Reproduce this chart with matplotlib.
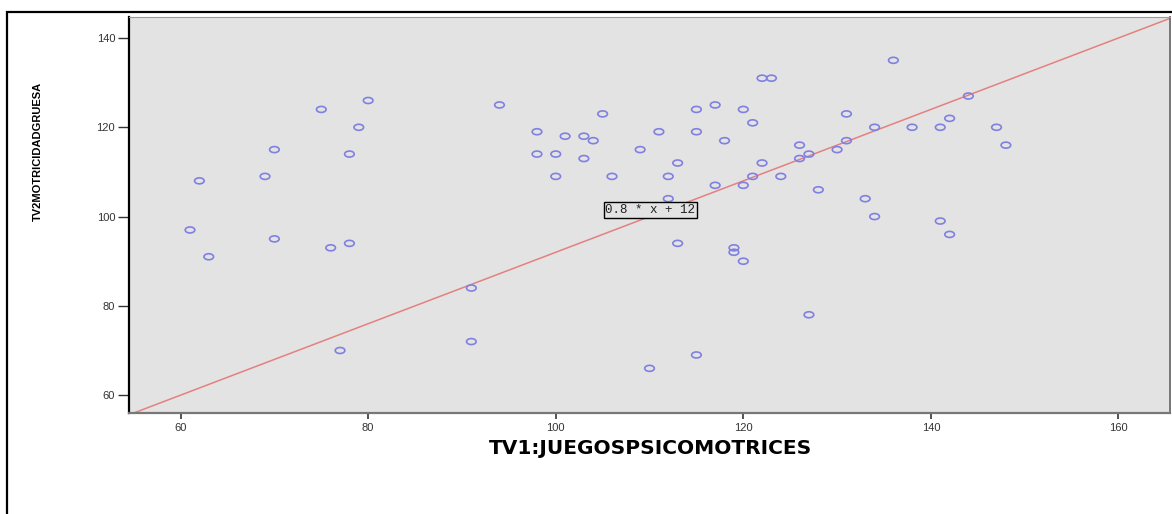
import matplotlib
matplotlib.use('Agg')
import matplotlib.pyplot as plt
from matplotlib.path import Path
from matplotlib.transforms import Affine2D
from matplotlib.patches import Rectangle

# data
juegos = [61, 62, 63, 69, 70, 70, 75, 76, 77, 78, 78, 79, 80, 91, 91, 94, 98, 98, 100, 100,
          101, 103, 103, 104, 105, 106, 109, 110, 111, 112, 112, 113, 113, 115, 115, 115, 117, 117, 118, 119,
          119, 120, 120, 120, 121, 121, 122, 122, 123, 124, 126, 126, 127, 127, 128, 130, 131, 131, 133, 134,
          134, 136, 138, 141, 141, 142, 142, 144, 147, 148]
motricidad = [97, 108, 91, 109, 115, 95, 124, 93, 70, 94, 114, 120, 126, 84, 72, 125, 119, 114, 114, 109,
              118, 118, 113, 117, 123, 109, 115, 66, 119, 109, 104, 112, 94, 124, 119, 69, 125, 107, 117, 93,
              92, 124, 107, 90, 121, 109, 112, 131, 131, 109, 116, 113, 114, 78, 106, 115, 117, 123, 104, 120,
              100, 135, 120, 120, 99, 122, 96, 127, 120, 116]
slope = 0.8
intercept = 12
x_ticks = [60, 80, 100, 120, 140, 160]
y_ticks = [60, 80, 100, 120, 140]

fig = plt.figure(figsize=(11.72, 5.14), dpi=100)
ax = fig.add_axes([0.1101, 0.1965, 0.8882, 0.7704])
ax.set_facecolor('#e3e3e3')

# outer black frame (runs off the right and bottom edges)
fig.add_artist(Rectangle((0.006, -0.05), 1.1, 0.9767 + 0.05, transform=fig.transFigure,
                         fill=False, edgecolor='black', linewidth=1.6, clip_on=False))

# elliptical open markers like the SPSS output
ell = Path.unit_circle().transformed(Affine2D().scale(1.6, 1.0))
ax.scatter(juegos, motricidad, marker=ell, s=48, facecolors='none',
           edgecolors='#8080e2', linewidths=1.2, zorder=3)

x0, x1 = 54.5, 165.5
ax.set_xlim(x0, x1)
ax.set_ylim(56, 144.7)
ax.plot([x0, x1], [slope * x0 + intercept, slope * x1 + intercept], color='#e58080', lw=1.1, zorder=2)

ax.text(110.1, 101.5, '0.8 * x + 12', ha='center', va='center', fontsize=9,
        family=['Liberation Mono', 'DejaVu Sans Mono'], color='#222222', zorder=4,
        bbox=dict(boxstyle='square,pad=0.15', facecolor='#e3e3e3', edgecolor='black', lw=1.0))

ax.set_xticks(x_ticks)
ax.set_yticks(y_ticks)
ax.tick_params(axis='y', direction='out', length=8, width=1, pad=2, labelsize=8, colors='#333333')
ax.tick_params(axis='x', direction='out', length=4, width=1.2, pad=3, labelsize=8, colors='#333333')
for lab in ax.get_xticklabels() + ax.get_yticklabels():
    lab.set_family('Liberation Sans')

ax.spines['left'].set_color('black')
ax.spines['left'].set_linewidth(1.6)
ax.spines['bottom'].set_color('#777777')
ax.spines['bottom'].set_linewidth(1.6)
ax.spines['top'].set_color('#9a9a9a')
ax.spines['right'].set_color('#777777')
ax.spines['right'].set_linewidth(1.4)

ax.set_xlabel('TV1:JUEGOSPSICOMOTRICES', fontsize=14.5, fontweight='bold', family='DejaVu Sans')
ax.xaxis.set_label_coords(0.5006, -0.066)
ax.set_ylabel('TV2MOTRICIDADGRUESA', fontsize=8, fontweight='bold', family='Liberation Sans')
ax.yaxis.set_label_coords(-0.083, 0.66)

fig.savefig('out.png', dpi=100)
